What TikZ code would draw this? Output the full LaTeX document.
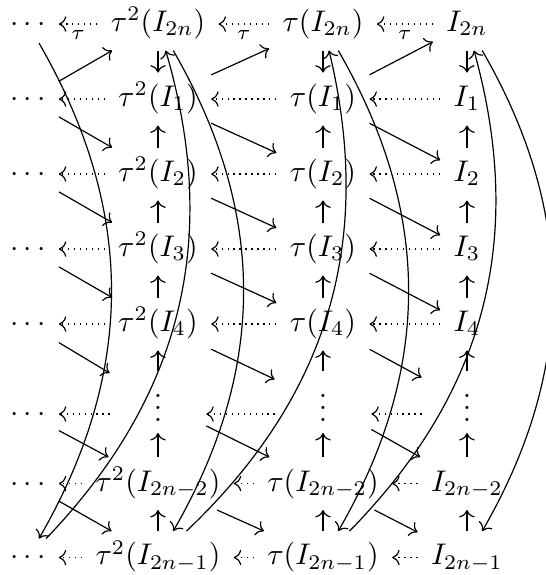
\documentclass[tikz,border=0pt]{standalone}
\usepackage{xcolor}
\usepackage{tikz}
\usetikzlibrary{arrows.meta}

\begin{document}
\begin{tikzpicture}[
        cell/.style={anchor=base, inner xsep=1ex, inner ysep=0.85ex},
        obj/.style={cell, text height=7.5pt, text depth=2.5pt},
        far/.style={cell, text height=5pt, text depth=0pt},
        vgap/.style={cell, text height=13pt, text depth=0pt, minimum width=#1},
        line/.style={draw, -{Computer Modern Rightarrow}},
        trans/.style={draw, dash pattern=on 0.4pt off 1.6pt, -{Computer Modern Rightarrow}},
        lbl/.style={below=0pt, inner sep=1.8pt, font=\scriptsize}
    ]
    \useasboundingbox (0,0) rectangle (6.417,-6.770);

    % Nodes
    \node [far] (dd2n) at (0.330,-0.371) {$\cdots$};
    \node [obj] (tt2n) at (1.860,-0.371) {$\tau^2(I_{2n})$};
    \node [obj] (t2n) at (3.803,-0.371) {$\tau(I_{2n})$};
    \node [obj] (i2n) at (5.498,-0.371) {$I_{2n}$};

    \node [far] (dd1) at (0.330,-1.254) {$\cdots$};
    \node [obj] (tt1) at (1.860,-1.254) {$\tau^2(I_1)$};
    \node [obj] (t1) at (3.803,-1.254) {$\tau(I_1)$};
    \node [obj] (i1) at (5.498,-1.254) {$I_1$};

    \node [far] (dd2) at (0.330,-2.137) {$\cdots$};
    \node [obj] (tt2) at (1.860,-2.137) {$\tau^2(I_2)$};
    \node [obj] (t2) at (3.803,-2.137) {$\tau(I_2)$};
    \node [obj] (i2) at (5.498,-2.137) {$I_2$};

    \node [far] (dd3) at (0.330,-3.020) {$\cdots$};
    \node [obj] (tt3) at (1.860,-3.020) {$\tau^2(I_3)$};
    \node [obj] (t3) at (3.803,-3.020) {$\tau(I_3)$};
    \node [obj] (i3) at (5.498,-3.020) {$I_3$};

    \node [far] (dd4) at (0.330,-3.903) {$\cdots$};
    \node [obj] (tt4) at (1.860,-3.903) {$\tau^2(I_4)$};
    \node [obj] (t4) at (3.803,-3.903) {$\tau(I_4)$};
    \node [obj] (i4) at (5.498,-3.903) {$I_4$};

    \node [far] (ddv) at (0.330,-4.963) {$\cdots$};
    \node [vgap=32pt] (ttv) at (1.860,-4.963) {$\vdots$};
    \node [vgap=32pt] (tv) at (3.803,-4.963) {$\vdots$};
    \node [vgap=30pt] (iv) at (5.498,-4.963) {$\vdots$};

    \node [far] (dd2n2) at (0.330,-5.781) {$\cdots$};
    \node [obj] (tt2n2) at (1.860,-5.781) {$\tau^2(I_{2n-2})$};
    \node [obj] (t2n2) at (3.803,-5.781) {$\tau(I_{2n-2})$};
    \node [obj] (i2n2) at (5.498,-5.781) {$I_{2n-2}$};

    \node [far] (dd2n1) at (0.330,-6.652) {$\cdots$};
    \node [obj] (tt2n1) at (1.860,-6.652) {$\tau^2(I_{2n-1})$};
    \node [obj] (t2n1) at (3.803,-6.652) {$\tau(I_{2n-1})$};
    \node [obj] (i2n1) at (5.498,-6.652) {$I_{2n-1}$};

    % Translations
    \path [trans] (tt2n) -- node [lbl] {$\tau$} (dd2n);
    \path [trans] (t2n) -- node [lbl] {$\tau$} (tt2n);
    \path [trans] (i2n) -- node [lbl] {$\tau$} (t2n);
    \path [trans] (tt1) -- (dd1); \path [trans] (t1) -- (tt1); \path [trans] (i1) -- (t1);
    \path [trans] (tt2) -- (dd2); \path [trans] (t2) -- (tt2); \path [trans] (i2) -- (t2);
    \path [trans] (tt3) -- (dd3); \path [trans] (t3) -- (tt3); \path [trans] (i3) -- (t3);
    \path [trans] (tt4) -- (dd4); \path [trans] (t4) -- (tt4); \path [trans] (i4) -- (t4);
    \path [trans] (ttv.west |- ddv) -- (ddv);
    \path [trans] (tv.west |- ddv) -- (ttv.east |- ddv);
    \path [trans] (iv.west |- ddv) -- (tv.east |- ddv);
    \path [trans] (tt2n2) -- (dd2n2); \path [trans] (t2n2) -- (tt2n2); \path [trans] (i2n2) -- (t2n2);
    \path [trans] (tt2n1) -- (dd2n1); \path [trans] (t2n1) -- (tt2n1); \path [trans] (i2n1) -- (t2n1);

    % Vertical maps
    \path [line] (tt2n) -- (tt1); \path [line] (t2n) -- (t1); \path [line] (i2n) -- (i1);
    \path [line] (tt2) -- (tt1); \path [line] (t2) -- (t1); \path [line] (i2) -- (i1);
    \path [line] (tt3) -- (tt2); \path [line] (t3) -- (t2); \path [line] (i3) -- (i2);
    \path [line] (tt4) -- (tt3); \path [line] (t4) -- (t3); \path [line] (i4) -- (i3);
    \path [line] (ttv) -- (tt4); \path [line] (tv) -- (t4); \path [line] (iv) -- (i4);
    \path [line] (tt2n2) -- (ttv); \path [line] (t2n2) -- (tv); \path [line] (i2n2) -- (iv);
    \path [line] (tt2n1) -- (tt2n2); \path [line] (t2n1) -- (t2n2); \path [line] (i2n1) -- (i2n2);

    % Diagonal maps
    \path [line] (dd1) -- (tt2n); \path [line] (tt1) -- (t2n); \path [line] (t1) -- (i2n);
    \path [line] (dd1) -- (tt2); \path [line] (tt1) -- (t2); \path [line] (t1) -- (i2);
    \path [line] (dd2) -- (tt3); \path [line] (tt2) -- (t3); \path [line] (t2) -- (i3);
    \path [line] (dd3) -- (tt4); \path [line] (tt3) -- (t4); \path [line] (t3) -- (i4);
    \path [line] (dd4) -- (ttv); \path [line] (tt4) -- (tv); \path [line] (t4) -- (iv);
    \path [line] (ddv) -- (tt2n2); \path [line] (ttv) -- (t2n2); \path [line] (tv) -- (i2n2);
    \path [line] (dd2n2) -- (tt2n1); \path [line] (tt2n2) -- (t2n1); \path [line] (t2n2) -- (i2n1);

    % Long maps
    \path [line] (dd2n) to [bend left] (dd2n1);
    \path [line] (tt2n) to [bend left] (tt2n1);
    \path [line] (t2n) to [bend left] (t2n1);
    \path [line] (i2n) to [bend left] (i2n1);
    \path [line] (dd2n1) to [bend right] (tt2n);
    \path [line] (tt2n1) to [bend right] (t2n);
    \path [line] (t2n1) to [bend right] (i2n);

\end{tikzpicture}
\end{document}
